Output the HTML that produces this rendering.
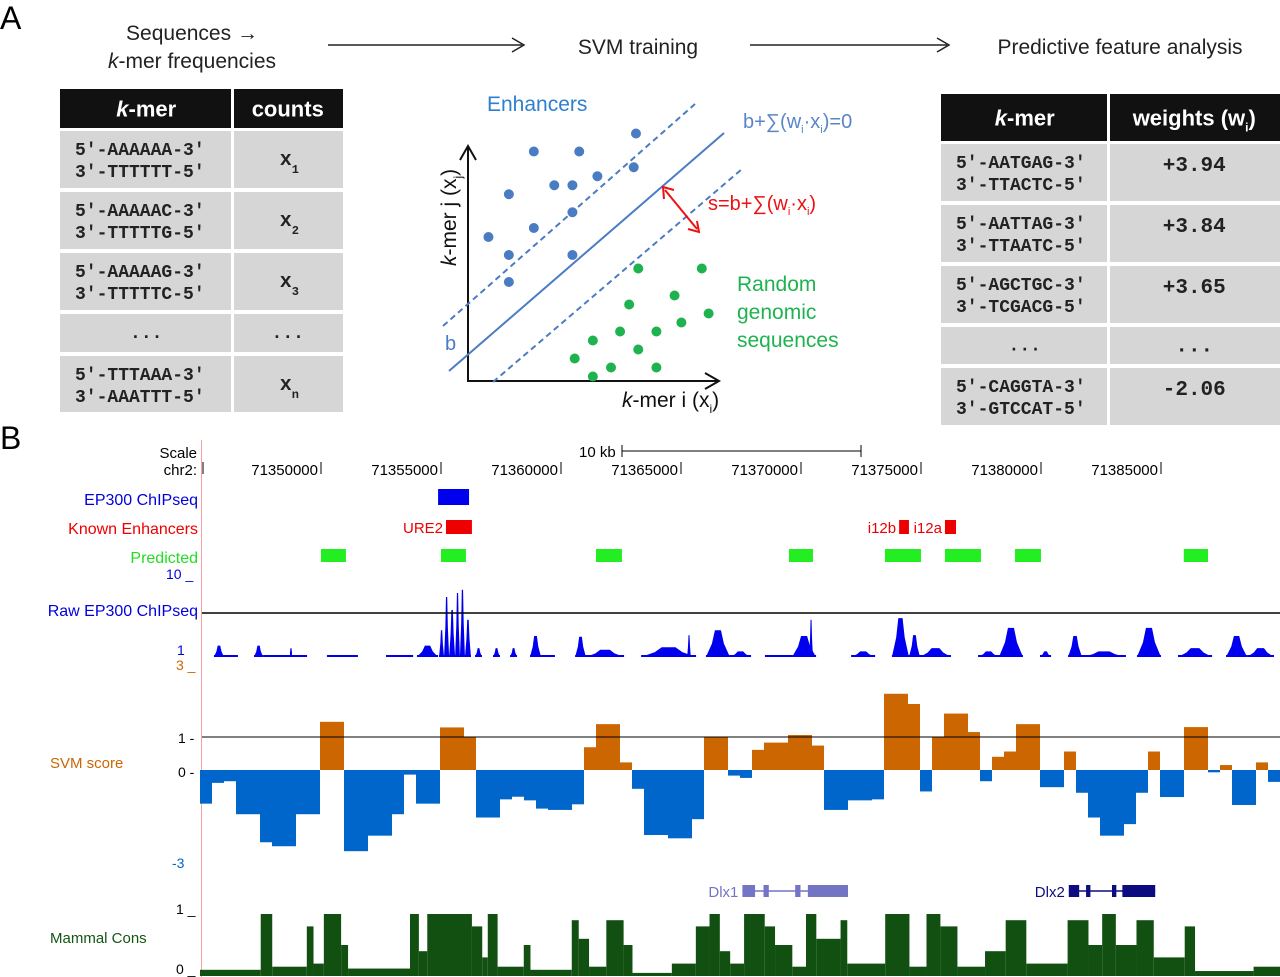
<!DOCTYPE html>
<html><head><meta charset="utf-8"><style>
html,body{margin:0;padding:0;background:#fff;}
svg{display:block;font-family:"Liberation Sans",sans-serif;}
.mono{font-family:"Liberation Mono",monospace;font-weight:bold;}
</style></head><body>
<svg id="fig" width="1280" height="977" viewBox="0 0 1280 977" xmlns="http://www.w3.org/2000/svg">
<g id="panelA">
<text x="0" y="29" font-size="32">A</text>
<text x="192" y="40" font-size="21" text-anchor="middle" fill="#222">Sequences →</text>
<text x="192" y="68" font-size="21" text-anchor="middle" fill="#222"><tspan font-style="italic">k</tspan>-mer frequencies</text>
<line x1="328" y1="45" x2="522" y2="45" stroke="#222" stroke-width="1.5"/>
<path d="M512,38 L524,45 L512,52" fill="none" stroke="#222" stroke-width="1.5"/>
<text x="638" y="54" font-size="21" text-anchor="middle" fill="#222">SVM training</text>
<line x1="750" y1="45" x2="947" y2="45" stroke="#222" stroke-width="1.5"/>
<path d="M937,38 L949,45 L937,52" fill="none" stroke="#222" stroke-width="1.5"/>
<text x="1120" y="54" font-size="21" text-anchor="middle" fill="#222">Predictive feature analysis</text>
<g id="leftTable"></g>
<g id="rightTable"></g>
<g id="svmPlot"></g>
</g>
<g id="panelB">
<text x="0" y="449" font-size="32">B</text>
<line x1="201.5" y1="440" x2="201.5" y2="977" stroke="#f4a0a0" stroke-width="1"/>
<text x="197" y="458" font-size="15" text-anchor="end">Scale</text>
<text x="197" y="475" font-size="15" text-anchor="end">chr2:</text>
<line x1="203" y1="462" x2="203" y2="474" stroke="#000"/>
<text x="579" y="457" font-size="15">10 kb</text>
<line x1="622" y1="451" x2="861" y2="451" stroke="#000"/>
<line x1="622" y1="445" x2="622" y2="457" stroke="#000"/><line x1="861" y1="445" x2="861" y2="457" stroke="#000"/>
<g id="ticks"></g>
<text x="198" y="505" font-size="16" text-anchor="end" fill="#0000dd">EP300 ChIPseq</text>
<text x="198" y="534" font-size="16" text-anchor="end" fill="#ee0000">Known Enhancers</text>
<text x="198" y="563" font-size="16" text-anchor="end" fill="#22dd22">Predicted</text>
<text x="166" y="579" font-size="14" fill="#0000dd">10 _</text>
<text x="198" y="616" font-size="16" text-anchor="end" fill="#0000dd">Raw EP300 ChIPseq</text>
<text x="177" y="655" font-size="14" fill="#0000dd">1</text>
<text x="176" y="670" font-size="14" fill="#cc6600">3 _</text>
<text x="178" y="743" font-size="14">1 -</text>
<text x="50" y="768" font-size="15" fill="#cc6600">SVM score</text>
<text x="178" y="777" font-size="14">0 -</text>
<text x="172" y="868" font-size="14" fill="#0066cc">-3</text>
<text x="176" y="914" font-size="14">1 _</text>
<text x="50" y="943" font-size="15" fill="#135513">Mammal Cons</text>
<text x="176" y="974" font-size="14">0 _</text>
<g id="tracks"></g>
</g>
</svg>
<script>
// ---------- Panel B data (positions in kb from window start) ----------
const genomeStartBp = 71344958;
const tickLabels = ["71350000","71355000","71360000","71365000","71370000","71375000","71380000","71385000"];
const ep300Start = [9.92], ep300End = [11.21];
const knownNames = ["URE2","i12b","i12a"];
const knownStart = [10.25, 29.13, 31.04];
const knownEnd = [11.33, 29.54, 31.5];
const predStart = [5.04, 10.04, 16.5, 24.54, 28.54, 31.04, 33.96, 40.99];
const predEnd = [6.08, 11.08, 17.58, 25.54, 30.04, 32.54, 35.04, 42.0];
const rawStart = [0.58,1.0,2.25,2.63,3.75,5.29,7.75,9.04,9.96,10.17,10.38,10.63,10.83,11.04,11.46,12.21,12.92,13.75,14.21,15.63,16.08,18.38,20.3,21.08,22.08,23.54,24.67,25.38,27.13,28.83,29.54,30.0,32.42,33.29,35.0,36.17,36.75,39.04,40.75,42.75,43.63];
const rawEnd   = [1.0,1.58,2.63,4.46,3.83,6.58,8.88,9.92,10.17,10.38,10.63,10.83,11.04,11.29,11.75,12.5,13.21,14.21,14.79,16.08,17.67,20.67,20.45,22.08,22.96,24.67,25.67,25.54,28.13,29.54,30.0,31.29,33.29,34.29,35.46,36.75,38.58,40.04,42.17,43.63,44.75];
const rawVal   = [1.4,0.25,1.4,0.25,1.1,0.25,0.25,1.4,3.3,7.4,5.8,7.9,8.3,4.6,1.1,1.1,1.1,2.6,0.25,2.5,0.9,1.2,2.7,3.3,0.7,0.25,2.6,4.6,0.7,4.8,2.7,1.1,0.7,3.6,0.7,2.6,0.7,3.6,1.1,2.6,1.1];
const svmBinKb = 0.5;
const svmScores = [-1.02,-0.39,-0.34,-1.34,-1.34,-2.19,-2.31,-2.31,-1.34,-1.34,1.46,1.46,-2.46,-2.46,-1.99,-1.99,-1.34,-0.14,-1.02,-1.02,
1.29,1.29,0.99,-1.44,-1.44,-0.89,-0.81,-0.92,-1.17,-1.21,-1.21,-1.04,0.69,1.39,1.39,0.23,-0.57,-1.97,-1.97,-2.07,
-2.07,-1.49,0.99,0.99,-0.17,-0.24,0.61,0.83,0.83,1.06,1.06,0.74,-1.21,-1.21,-0.92,-0.92,-0.89,2.31,2.31,2.0,
-0.65,0.99,1.71,1.71,1.15,-0.34,0.4,0.56,1.39,1.39,-0.52,-0.52,0.56,-0.69,-1.44,-1.99,-1.99,-1.64,-0.69,0.56,
-0.82,-0.82,1.3,1.3,-0.07,0.15,-1.06,-1.06,0.23,-0.36];
const consStart = [0,2.53,3.01,4.45,4.73,5.16,5.88,6.17,8.75,9.12,9.47,11.33,11.76,11.99,12.40,13.49,13.77,15.49,15.78,16.21,16.93,17.65,18.02,19.66,20.66,21.23,21.66,22.09,22.67,23.53,23.96,24.68,25.25,25.68,26.69,26.97,28.55,29.56,30.27,30.85,31.56,32.71,33.57,34.43,36.15,37.02,37.59,38.16,39.02,39.74,41.03,41.46,43.9];
const consVal = [0.1,1.0,0.15,0.8,0.2,1.0,0.5,0.12,1.0,0.4,1.0,0.8,0.3,1.0,0.15,0.5,0.1,0.9,0.6,0.15,0.9,0.5,0.05,0.2,0.8,1.0,0.4,0.2,1.0,0.8,0.5,0.15,1.0,0.6,0.9,0.2,1.0,0.15,1.0,0.8,0.15,0.4,0.9,0.2,0.9,0.5,1.0,0.5,0.9,0.3,0.8,0.08,0.15];
const consEndKb = 45;
const genes = ["Dlx1","Dlx2"];
const geneStart = [22.6, 36.2];
const geneEnd = [27.0, 39.8];

// ---------- Panel A data ----------
const leftKmers = [["5′-AAAAAA-3′","3′-TTTTTT-5′"],["5′-AAAAAC-3′","3′-TTTTTG-5′"],["5′-AAAAAG-3′","3′-TTTTTC-5′"],["···"],["5′-TTTAAA-3′","3′-AAATTT-5′"]];
const leftCounts = ["1","2","3","...","n"];
const rightKmers = [["5′-AATGAG-3′","3′-TTACTC-5′"],["5′-AATTAG-3′","3′-TTAATC-5′"],["5′-AGCTGC-3′","3′-TCGACG-5′"],["···"],["5′-CAGGTA-3′","3′-GTCCAT-5′"]];
const rightWeights = ["+3.94","+3.84","+3.65","...","-2.06"];
const enhX = [7.4,2.9,4.9,7.3,5.7,3.8,4.6,1.8,4.6,2.9,0.9,1.8,4.6,1.8];
const enhY = [11.0,10.2,10.2,9.5,9.1,8.7,8.7,8.3,7.5,6.8,6.4,5.6,5.6,4.4];
const rndX = [7.5,10.3,9.1,7.1,10.6,9.4,6.7,8.3,5.5,7.5,4.7,6.3,8.3,5.5];
const rndY = [5.0,5.0,3.8,3.4,3.0,2.6,2.2,2.2,1.8,1.4,1.0,0.6,0.6,0.2];

const NS="http://www.w3.org/2000/svg";
function mk(tag, attrs, parent){const e=document.createElementNS(NS,tag);for(const k in attrs)e.setAttribute(k,attrs[k]);parent.appendChild(e);return e;}
const xKb = kb => 200 + 24*kb;
const bpToKb = bp => (bp - genomeStartBp)/1000;
const ySvm = v => 770 - 33*v;
const yRaw = v => 657 - 8.1*v;
const yCons = v => 976 - 62*v;

const tracks=document.getElementById('tracks');
const ticks=document.getElementById('ticks');
tickLabels.forEach(t=>{
  const x=xKb(bpToKb(+t));
  const tx=mk('text',{x:x-3,y:475,'font-size':15,'text-anchor':'end'},ticks);tx.textContent=t;
  
  
  const l=mk('line',{x1:x,y1:462,x2:x,y2:474,stroke:'#000'},ticks);
  
  
});
ep300Start.forEach((s,i)=>{
  const r=mk('rect',{x:xKb(s),y:489,width:xKb(ep300End[i])-xKb(s),height:16,fill:'#0000ee'},tracks);
  
  
});
knownStart.forEach((s,i)=>{
  const r=mk('rect',{x:xKb(s),y:520,width:xKb(knownEnd[i])-xKb(s),height:14,fill:'#ee0000'},tracks);
  
  
  const t=mk('text',{x:xKb(s)-3,y:533,'font-size':15,'text-anchor':'end',fill:'#ee0000'},tracks);t.textContent=knownNames[i];
  
  
});
predStart.forEach((s,i)=>{
  const r=mk('rect',{x:xKb(s),y:549,width:xKb(predEnd[i])-xKb(s),height:13,fill:'#22ee22'},tracks);
  
  
});
rawStart.forEach((s,i)=>{
  const y=yRaw(rawVal[i]), b=yRaw(0), x0=xKb(s), x1=xKb(rawEnd[i]);
  const base=mk('rect',{x:x0,y:b-2,width:Math.max(1,x1-x0),height:2,fill:'#0000ee'},tracks);
  
  
  const m=(x0+x1)/2, w=Math.max(1,(x1-x0)*0.25);
  const p=mk('path',{d:`M${x0},${b} L${m-w},${(y+b)/2} L${m-w/2},${y} L${m+w/2},${y} L${m+w},${(y+b)/2} L${x1},${b} Z`,fill:'#0000ee'},tracks);
  
  
});
const l1=mk('line',{x1:202,y1:613,x2:1280,y2:613,stroke:'#000','stroke-width':1.5},tracks);


svmScores.forEach((v,i)=>{
  const x0=xKb(i*svmBinKb), x1=xKb((i+1)*svmBinKb);
  const y0=ySvm(Math.max(v,0)), y1=ySvm(Math.min(v,0));
  const r=mk('rect',{x:x0,y:y0,width:x1-x0,height:y1-y0,fill:v>0?'#cc6600':'#0066cc'},tracks);
  
  
});
const l2=mk('line',{x1:202,y1:ySvm(1),x2:1280,y2:ySvm(1),stroke:'#000','stroke-width':1},tracks);


consStart.forEach((s,i)=>{
  const e=i+1<consStart.length?consStart[i+1]:consEndKb;
  const y=yCons(consVal[i]);
  const r=mk('rect',{x:xKb(s),y:y,width:xKb(e)-xKb(s),height:yCons(0)-y,fill:'#125012'},tracks);
  
  
});
genes.forEach((g,i)=>{
  const col=i===0?'#7474c4':'#0c0c80';
  const x0=xKb(geneStart[i]), x1=xKb(geneEnd[i]);
  const grp=mk('g',{},tracks);
  
  
  const t=mk('text',{x:x0-4,y:897,'font-size':15,'text-anchor':'end',fill:col},grp);t.textContent=g;
  mk('line',{x1:x0,y1:891,x2:x1,y2:891,stroke:col,'stroke-width':1.5},grp);
  const w=x1-x0;
  [[0,0.12],[0.2,0.25],[0.5,0.55],[0.62,1]].forEach(p=>mk('rect',{x:x0+w*p[0],y:885,width:w*(p[1]-p[0]),height:12,fill:col},grp));
});

// ---------- Panel A tables ----------
function table(gid, x0, xm, x1, hy0, hy1, rows, head1, head2, kmers, vals, isCounts){
  const g=document.getElementById(gid);
  mk('rect',{x:x0,y:hy0,width:xm-x0-1.5,height:hy1-hy0,fill:'#111'},g);
  mk('rect',{x:xm+1.5,y:hy0,width:x1-xm-1.5,height:hy1-hy0,fill:'#111'},g);
  const cy=(hy0+hy1)/2+8;
  const h1=mk('text',{x:(x0+xm)/2,y:cy,'font-size':22,'font-weight':'bold',fill:'#fff','text-anchor':'middle'},g);
  h1.innerHTML='<tspan font-style="italic">k</tspan>-mer';
  const h2=mk('text',{x:(xm+x1)/2,y:cy,'font-size':22,'font-weight':'bold',fill:'#fff','text-anchor':'middle'},g);
  h2.innerHTML=head2;
  rows.forEach((r,i)=>{
    const a=mk('rect',{x:x0,y:r[0],width:xm-x0-1.5,height:r[1]-r[0],fill:'#d6d6d6'},g);
    
    
    mk('rect',{x:xm+1.5,y:r[0],width:x1-xm-1.5,height:r[1]-r[0],fill:'#d6d6d6'},g);
    const k=kmers[i];
    if(k.length===2){
      const t1=mk('text',{x:x0+15,y:r[0]+24,'font-size':18,'class':'mono',fill:'#222'},g);t1.textContent=k[0];
      const t2=mk('text',{x:x0+15,y:r[0]+46,'font-size':18,'class':'mono',fill:'#222'},g);t2.textContent=k[1];
    } else {
      const t=mk('text',{x:(x0+xm)/2,y:(r[0]+r[1])/2+5,'font-size':18,'class':'mono','text-anchor':'middle',fill:'#222'},g);t.textContent='...';
    }
    if(isCounts){
      if(vals[i]==='...'){const t=mk('text',{x:(xm+x1)/2,y:(r[0]+r[1])/2+5,'font-size':18,'class':'mono','text-anchor':'middle',fill:'#222'},g);t.textContent='...';}
      else{const t=mk('text',{x:(xm+x1)/2-8,y:r[0]+34,'font-size':20,'class':'mono',fill:'#222'},g);t.innerHTML='x<tspan font-size="12" dy="8">'+vals[i]+'</tspan>';}
    } else {
      const t=mk('text',{x:(xm+x1)/2,y:vals[i]==='...'?(r[0]+r[1])/2+6:r[0]+27,'font-size':21,'class':'mono','text-anchor':'middle',fill:'#222'},g);t.textContent=vals[i];
    }
  });
}
table('leftTable',60,232.5,343,89,128,[[131,188],[192,249],[253,310],[314,352],[356,412]],'k-mer','counts',leftKmers,leftCounts,true);
table('rightTable',941,1108.5,1280,94,141,[[144,201],[205,262],[266,323],[327,364],[368,425]],'k-mer','weights (w<tspan font-size="12" dy="6">i</tspan><tspan dy="-6">)</tspan>',rightKmers,rightWeights,false);

// ---------- SVM diagram ----------
const sv=document.getElementById('svmPlot');
const px = v => 468 + 22.7*v;
const py = v => 381 - 22.5*v;
mk('path',{d:'M468,148 L468,381 L718,381',fill:'none',stroke:'#111','stroke-width':2},sv);
mk('path',{d:'M460,160 L468,146 L476,160 M705,373 L719,381 L705,389',fill:'none',stroke:'#111','stroke-width':2},sv);
mk('line',{x1:449,y1:371,x2:724,y2:133,stroke:'#4a7cc4','stroke-width':2},sv);
mk('line',{x1:443,y1:326,x2:695,y2:104,stroke:'#4a7cc4','stroke-width':2,'stroke-dasharray':'6,4'},sv);
mk('line',{x1:493,y1:382,x2:742,y2:169,stroke:'#4a7cc4','stroke-width':2,'stroke-dasharray':'6,4'},sv);
mk('line',{x1:665,y1:190,x2:697,y2:229,stroke:'#ee1111','stroke-width':2},sv);
mk('path',{d:'M664,199 L663,187 L674,190 M688,229 L699,232 L697,221',fill:'none',stroke:'#ee1111','stroke-width':2},sv);
enhX.forEach((v,i)=>{const c=mk('circle',{cx:px(v),cy:py(enhY[i]),r:5,fill:'#4a7cc4'},sv);
  
  });
rndX.forEach((v,i)=>{const c=mk('circle',{cx:px(v),cy:py(rndY[i]),r:5,fill:'#1fb350'},sv);
  
  });
sv.insertAdjacentHTML('beforeend',
 '<text x="487" y="111" font-size="21" fill="#2f7fcf">Enhancers</text>'+
 '<text x="743" y="128" font-size="20" fill="#5a86c8">b+∑(w<tspan font-size="11" dy="5">i</tspan><tspan dy="-5">·x</tspan><tspan font-size="11" dy="5">i</tspan><tspan dy="-5">)=0</tspan></text>'+
 '<text x="708" y="210" font-size="20" fill="#ee1111">s=b+∑(w<tspan font-size="11" dy="5">i</tspan><tspan dy="-5">·x</tspan><tspan font-size="11" dy="5">i</tspan><tspan dy="-5">)</tspan></text>'+
 '<text x="737" y="291" font-size="21" fill="#1fb350">Random</text>'+
 '<text x="737" y="319" font-size="21" fill="#1fb350">genomic</text>'+
 '<text x="737" y="347" font-size="21" fill="#1fb350">sequences</text>'+
 '<text x="445" y="350" font-size="20" fill="#4a7cc4">b</text>'+
 '<text x="622" y="407" font-size="21" fill="#111"><tspan font-style="italic">k</tspan>-mer i (x<tspan font-size="12" dy="6">i</tspan><tspan dy="-6">)</tspan></text>'+
 '<text transform="translate(456,266) rotate(-90)" font-size="21" fill="#111"><tspan font-style="italic">k</tspan>-mer j (x<tspan font-size="12" dy="6">j</tspan><tspan dy="-6">)</tspan></text>');
</script>
</body></html>
